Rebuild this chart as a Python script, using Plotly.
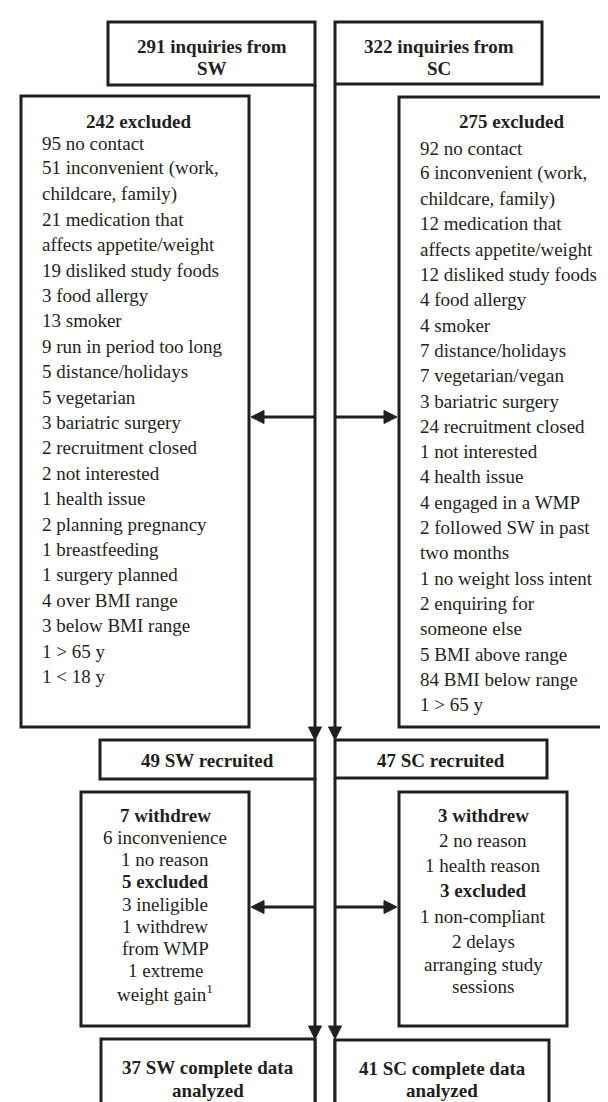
import plotly.graph_objects as go

# ---------------- data (text content of the flow chart) ----------------
sw_inquiries = ["291 inquiries from", "SW"]
sc_inquiries = ["322 inquiries from", "SC"]

sw_excl_title = "242 excluded"
sw_excl_lines = [
    "95 no contact", "51 inconvenient (work,", "childcare, family)",
    "21 medication that", "affects appetite/weight", "19 disliked study foods",
    "3 food allergy", "13 smoker", "9 run in period too long",
    "5 distance/holidays", "5 vegetarian", "3 bariatric surgery",
    "2 recruitment closed", "2 not interested", "1 health issue",
    "2 planning pregnancy", "1 breastfeeding", "1 surgery planned",
    "4 over BMI range", "3 below BMI range", "1 > 65 y", "1 < 18 y",
]

sc_excl_title = "275 excluded"
sc_excl_lines = [
    "92 no contact", "6 inconvenient (work,", "childcare, family)",
    "12 medication that", "affects appetite/weight", "12 disliked study foods",
    "4 food allergy", "4 smoker", "7 distance/holidays", "7 vegetarian/vegan",
    "3 bariatric surgery", "24 recruitment closed", "1 not interested",
    "4 health issue", "4 engaged in a WMP", "2 followed SW in past",
    "two months", "1 no weight loss intent", "2 enquiring for",
    "someone else", "5 BMI above range", "84 BMI below range", "1 > 65 y",
]

sw_recruited = "49 SW recruited"
sc_recruited = "47 SC recruited"

# entries: (bold?, [wrapped lines])
sw_withdraw = [
    (True, ["7 withdrew"]), (False, ["6 inconvenience"]), (False, ["1 no reason"]),
    (True, ["5 excluded"]), (False, ["3 ineligible"]), (False, ["1 withdrew", "from WMP"]),
    (False, ["1 extreme", "weight gain<sup>1</sup>"]),
]
sc_withdraw = [
    (True, ["3 withdrew"]), (False, ["2 no reason"]), (False, ["1 health reason"]),
    (True, ["3 excluded"]), (False, ["1 non-compliant"]),
    (False, ["2 delays", "arranging study", "sessions"]),
]

sw_final = ["37 SW complete data", "analyzed"]
sc_final = ["41 SC complete data", "analyzed"]

# ---------------- layout / styling ----------------
W, H = 608, 1102
INK = "#231f20"
FONT = "Liberation Serif, Times New Roman, serif"
FS = 19
LW = 3

XL, XR = 307, 327  # the two vertical flow lines

fig = go.Figure()
shapes = []
annots = []


def box(x0, y0, x1, y1):
    shapes.append(dict(type="rect", x0=x0, y0=y0, x1=x1, y1=y1,
                       line=dict(color=INK, width=LW), fillcolor="white", layer="above"))


def line(x0, y0, x1, y1):
    shapes.append(dict(type="line", x0=x0, y0=y0, x1=x1, y1=y1,
                       line=dict(color=INK, width=LW), layer="above"))


def head(tx, ty, direction, length=13, half=6.5):
    if direction == "down":
        p = f"M{tx},{ty} L{tx-half},{ty-length} L{tx+half},{ty-length} Z"
    elif direction == "left":
        p = f"M{tx},{ty} L{tx+length},{ty-half} L{tx+length},{ty+half} Z"
    else:
        p = f"M{tx},{ty} L{tx-length},{ty-half} L{tx-length},{ty+half} Z"
    shapes.append(dict(type="path", path=p, fillcolor=INK,
                       line=dict(color=INK, width=1), layer="above"))


def text(x, y, s, bold=False, align="center"):
    if bold:
        s = f"<b>{s}</b>"
    annots.append(dict(x=x, y=y, text=s, showarrow=False, xanchor=align,
                       yanchor="middle", font=dict(family=FONT, size=FS, color=INK),
                       align=align))


# vertical flow lines with arrowheads
for x in (XL, XR):
    line(x, 77, x, 732 - 12)
    head(x, 732, "down")
    line(x, 770, x, 1031 - 12)
    head(x, 1031, "down")
    line(x, 1031, x, H + 10)

# boxes
box(100, 14, XL, 77)
box(XR, 14, 534, 76)
box(13, 88, 241, 719)
box(391, 89, 606, 719)
box(92, 732, XL, 771)
box(XR, 732, 539, 770)
box(73, 784, 241, 1018)
box(391, 784, 559, 1018)
box(93, 1031, XL, H + 20)
box(XR, 1032, 541, H + 20)

# horizontal arrows
for y in (409, 899):
    line(XL, y, 241 + 12, y)
    head(243, y, "left")
    line(XR, y, 391 - 12, y)
    head(389, y, "right")

# top boxes
for i, s in enumerate(sw_inquiries):
    text((100 + XL) / 2, 38 + 22 * i, s, bold=True)
for i, s in enumerate(sc_inquiries):
    text((XR + 534) / 2, 38 + 22 * i, s, bold=True)

# excluded lists
text(130, 113, sw_excl_title, bold=True)
for i, s in enumerate(sw_excl_lines):
    text(32, 135 + 25.4 * i, s, align="left")
text(503, 113, sc_excl_title, bold=True)
for i, s in enumerate(sc_excl_lines):
    text(410, 140 + 25.3 * i, s, align="left")

# recruited
text((92 + XL) / 2, 752, sw_recruited, bold=True)
text((XR + 539) / 2, 752, sc_recruited, bold=True)


def entries(cx, y0, items, step, wrap_step):
    y = y0
    first = True
    for bold, lines in items:
        for j, s in enumerate(lines):
            if not first:
                y += wrap_step if j > 0 else step
            first = False
            text(cx, y, s, bold=bold)


entries((73 + 241) / 2, 807, sw_withdraw, 22.25, 22.25)
entries((391 + 559) / 2, 807, sc_withdraw, 25.3, 22.5)

# final boxes
for i, s in enumerate(sw_final):
    text((93 + XL) / 2, 1059 + 23 * i, s, bold=True)
for i, s in enumerate(sc_final):
    text((XR + 541) / 2, 1060 + 22 * i, s, bold=True)

fig.update_layout(
    width=W, height=H, margin=dict(l=0, r=0, t=0, b=0),
    paper_bgcolor="white", plot_bgcolor="white",
    xaxis=dict(range=[0, W], visible=False, fixedrange=True),
    yaxis=dict(range=[H, 0], visible=False, fixedrange=True),
    shapes=shapes, annotations=annots, showlegend=False,
)
fig.write_html("out.html")
